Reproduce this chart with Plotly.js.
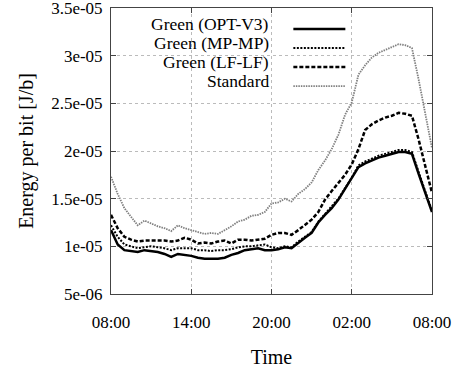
<!DOCTYPE html>
<html>
<head>
<meta charset="utf-8">
<script src="https://cdn.plot.ly/plotly-3.0.1.min.js"></script>
<style>html,body{margin:0;padding:0;background:#fff;}#chart{width:455px;height:368px;}</style>
</head>
<body>
<div id="chart"></div>
<script>
// hours since 08:00
const hours = [0,0.5,1,1.5,2,2.5,3,3.5,4,4.5,5,5.5,6,6.5,7,7.5,8,8.5,9,9.5,10,10.5,11,11.5,12,12.5,13,13.5,14,14.5,15,15.5,16,16.5,17,17.5,18,18.5,19,19.5,20,20.5,21,21.5,22,22.5,23,23.5,24];
// values in units of 1e-5 J/b
const optV3 = [1.17,1.02,0.96,0.95,0.94,0.96,0.95,0.94,0.92,0.89,0.92,0.91,0.90,0.88,0.87,0.87,0.87,0.88,0.91,0.93,0.96,0.97,0.98,0.96,0.96,0.97,0.99,0.98,1.04,1.09,1.14,1.25,1.33,1.40,1.49,1.60,1.71,1.83,1.87,1.90,1.93,1.95,1.97,1.99,1.99,1.97,1.76,1.57,1.36];
const mpMp = [1.22,1.10,1.02,1.00,0.98,0.99,1.00,0.99,0.98,0.96,0.98,0.98,0.98,0.96,0.96,0.95,0.96,0.96,0.97,0.99,1.00,1.00,1.01,1.02,0.99,0.98,1.00,0.99,1.05,1.10,1.15,1.26,1.34,1.41,1.50,1.61,1.72,1.85,1.89,1.92,1.95,1.97,1.99,2.01,2.01,1.99,1.78,1.58,1.37];
const lfLf = [1.33,1.19,1.10,1.07,1.05,1.06,1.06,1.06,1.06,1.05,1.06,1.09,1.07,1.03,1.04,1.03,1.05,1.06,1.03,1.07,1.07,1.06,1.07,1.08,1.12,1.14,1.14,1.12,1.17,1.23,1.28,1.36,1.49,1.58,1.67,1.75,1.86,2.02,2.22,2.28,2.32,2.35,2.37,2.40,2.39,2.37,2.12,1.83,1.56];
const standard = [1.73,1.55,1.40,1.31,1.22,1.27,1.24,1.21,1.19,1.16,1.22,1.19,1.17,1.15,1.13,1.14,1.13,1.17,1.21,1.26,1.28,1.32,1.33,1.36,1.45,1.46,1.50,1.47,1.55,1.60,1.67,1.80,1.90,2.02,2.17,2.38,2.51,2.80,2.90,2.98,3.03,3.06,3.09,3.12,3.11,3.08,2.75,2.38,2.03];
const seriesNames = ['Green (OPT-V3)','Green (MP-MP)','Green (LF-LF)','Standard'];
const xTickVals = [0,6,12,18,24];
const xTickText = ['08:00','14:00','20:00','02:00','08:00'];
const yTickVals = [5e-6,1e-5,1.5e-5,2e-5,2.5e-5,3e-5,3.5e-5];
const yTickText = ['5e-06','1e-05','1.5e-05','2e-05','2.5e-05','3e-05','3.5e-05'];

const scale = v => v.map(d => d * 1e-5);
const styles = [
  {color:'#000', width:2.5, dash:'solid'},
  {color:'#000', width:2, dash:'2px,1.5px'},
  {color:'#000', width:2.5, dash:'4px,2px'},
  {color:'#808080', width:1.8, dash:'1.5px,1px'}
];
const allY = [optV3, mpMp, lfLf, standard];
const traces = allY.map((y,i) => ({
  x: hours, y: scale(y), type:'scatter', mode:'lines',
  name: '', legendrank: i+1,
  hovertemplate: seriesNames[i] + ': %{y}<extra></extra>',
  line: styles[i]
}));

const fam = '"Liberation Serif", "Times New Roman", serif';
const tickFont = {family:fam, size:17, color:'#000'};
const titleFont = {family:fam, size:20, color:'#000'};
const legFont = {family:fam, size:17.5, color:'#000'};
const annotations = seriesNames.map((t,i) => ({
  text: t, xref:'paper', yref:'paper', x: 0.497, y: 0.944 - i*0.0664,
  xanchor:'right', yanchor:'middle', showarrow:false, font: legFont
}));

const layout = {
  width:455, height:368,
  margin:{l:111, r:23, t:8, b:74},
  paper_bgcolor:'#fff', plot_bgcolor:'#fff',
  font: tickFont,
  showlegend:true,
  legend:{x:0.5525, y:0.977, xanchor:'left', yanchor:'top', bgcolor:'rgba(0,0,0,0)',
    itemwidth:52, font:{family:fam, size:12}, tracegroupgap:0, traceorder:'normal'},
  annotations: annotations,
  xaxis:{range:[0,24], tickvals:xTickVals, ticktext:xTickText, tickfont:tickFont,
    showline:true, linecolor:'#444', linewidth:1, mirror:'ticks', ticks:'inside', ticklen:5, tickcolor:'#444',
    showgrid:true, gridcolor:'#bbb', griddash:'dot', gridwidth:1, zeroline:false,
    ticklabelstandoff:13, ticklabeloverflow:'allow',
    title:{text:'Time', font:titleFont, standoff:30}},
  yaxis:{range:[4.9999e-6,3.50001e-5], tickvals:yTickVals, ticktext:yTickText, tickfont:tickFont,
    showline:true, linecolor:'#444', linewidth:1, mirror:'ticks', ticks:'inside', ticklen:5, tickcolor:'#444',
    showgrid:true, gridcolor:'#bbb', griddash:'dot', gridwidth:1, zeroline:false,
    ticklabelstandoff:4, ticklabeloverflow:'allow',
    title:{text:'Energy per bit [J/b]', font:titleFont, standoff:12}}
};
Plotly.newPlot('chart', traces, layout, {displayModeBar:false, staticPlot:true});
</script>
</body>
</html>
